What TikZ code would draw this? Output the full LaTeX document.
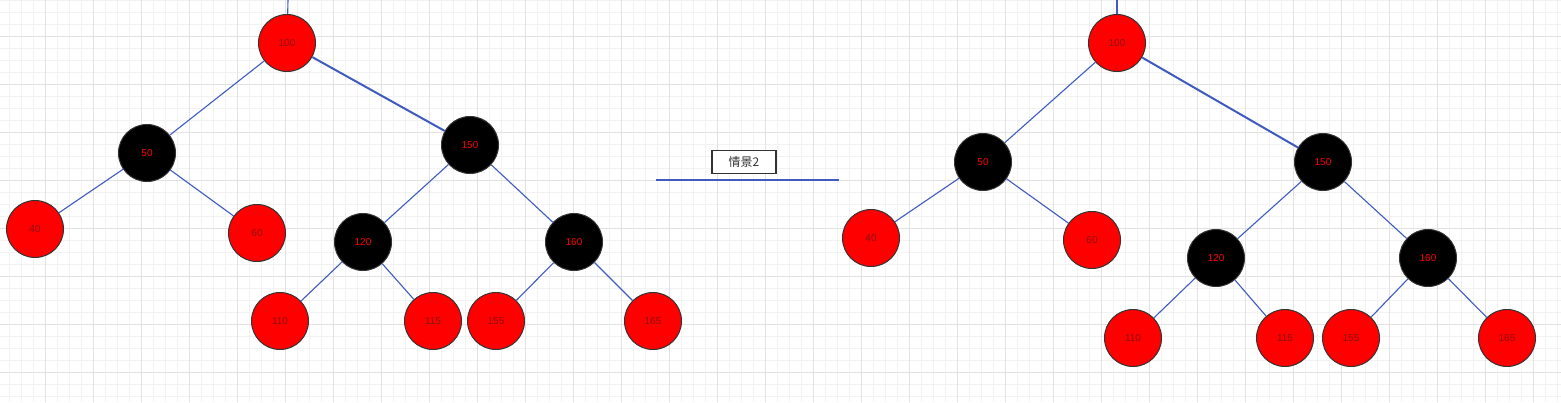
\documentclass[tikz,border=0pt]{standalone}
\usepackage{fontspec}
\setmainfont{Liberation Sans}
\newfontfamily\cjk{Noto Sans CJK SC}
\definecolor{edgeblue}{HTML}{3F5BC0}
\definecolor{minorgrid}{HTML}{F2F2F2}
\definecolor{majorgrid}{HTML}{E2E2E2}
\definecolor{rimgray}{HTML}{333333}
\definecolor{redtext}{HTML}{8A1010}
\begin{document}
\begin{tikzpicture}[x=1pt,y=-1pt,
  rednode/.style={circle,draw=rimgray,line width=1pt,fill=red,minimum size=57pt,inner sep=0pt,font=\fontsize{10}{12}\selectfont,text=redtext},
  blacknode/.style={circle,draw=black!80,line width=1pt,fill=black,minimum size=57pt,inner sep=0pt,font=\fontsize{10}{12}\selectfont,text=red},
  edge/.style={draw=edgeblue,line width=1.1pt},
  thickedge/.style={draw=edgeblue,line width=2pt}]
\useasboundingbox (0,0) rectangle (1561,402);
\fill[white] (0,0) rectangle (1561,402);
% grid
\foreach \x in {9,21,...,1561} \draw[minorgrid,line width=0.7pt] (\x,0) -- (\x,402);
\foreach \y in {0,12,...,402} \draw[minorgrid,line width=0.7pt] (0,\y) -- (1561,\y);
\foreach \x in {45,93,...,1561} \draw[majorgrid,line width=0.7pt] (\x,0) -- (\x,402);
\foreach \y in {36,84,...,402} \draw[majorgrid,line width=0.7pt] (0,\y) -- (1561,\y);
% left tree
\node[rednode] (La) at (287,43) {100};
\node[blacknode] (Lb) at (147,153) {50};
\node[rednode] (Lc) at (35,229) {40};
\node[rednode] (Ld) at (257,233) {60};
\node[blacknode] (Le) at (470,145) {150};
\node[blacknode] (Lf) at (363,242) {120};
\node[blacknode] (Lg) at (574,242) {160};
\node[rednode] (Lh) at (280,321) {110};
\node[rednode] (Li) at (433,321) {115};
\node[rednode] (Lj) at (496,321) {155};
\node[rednode] (Lk) at (653,321) {165};
\coordinate (Ltop) at (288,0);
\draw[edge] (La) -- (Ltop);
\draw[edge] (La) -- (Lb);
\draw[thickedge] (La) -- (Le);
\draw[edge] (Lb) -- (Lc);
\draw[edge] (Lb) -- (Ld);
\draw[edge] (Le) -- (Lf);
\draw[edge] (Le) -- (Lg);
\draw[edge] (Lf) -- (Lh);
\draw[edge] (Lf) -- (Li);
\draw[edge] (Lg) -- (Lj);
\draw[edge] (Lg) -- (Lk);
% middle label
\node[draw=rimgray,line width=1.2pt,fill=white,minimum width=64pt,minimum height=23pt,inner sep=0pt,font=\cjk\fontsize{12}{14}\selectfont,text=rimgray] (lab) at (744,162) {情景2};
\coordinate (m1) at (656,180);
\coordinate (m2) at (839,180);
\draw[edge] (m1) -- (m2);
% right tree
\node[rednode] (Ra) at (1117,43) {100};
\node[blacknode] (Rb) at (983,162) {50};
\node[rednode] (Rc) at (871,238) {40};
\node[rednode] (Rd) at (1092,240) {60};
\node[blacknode] (Re) at (1323,162) {150};
\node[blacknode] (Rf) at (1216,258) {120};
\node[blacknode] (Rg) at (1428,258) {160};
\node[rednode] (Rh) at (1133,338) {110};
\node[rednode] (Ri) at (1285,338) {115};
\node[rednode] (Rj) at (1351,338) {155};
\node[rednode] (Rk) at (1507,338) {165};
\coordinate (Rtop) at (1117,0);
\draw[edge] (Ra) -- (Rtop);
\draw[edge] (Ra) -- (Rb);
\draw[thickedge] (Ra) -- (Re);
\draw[edge] (Rb) -- (Rc);
\draw[edge] (Rb) -- (Rd);
\draw[edge] (Re) -- (Rf);
\draw[edge] (Re) -- (Rg);
\draw[edge] (Rf) -- (Rh);
\draw[edge] (Rf) -- (Ri);
\draw[edge] (Rg) -- (Rj);
\draw[edge] (Rg) -- (Rk);
\end{tikzpicture}
\end{document}
